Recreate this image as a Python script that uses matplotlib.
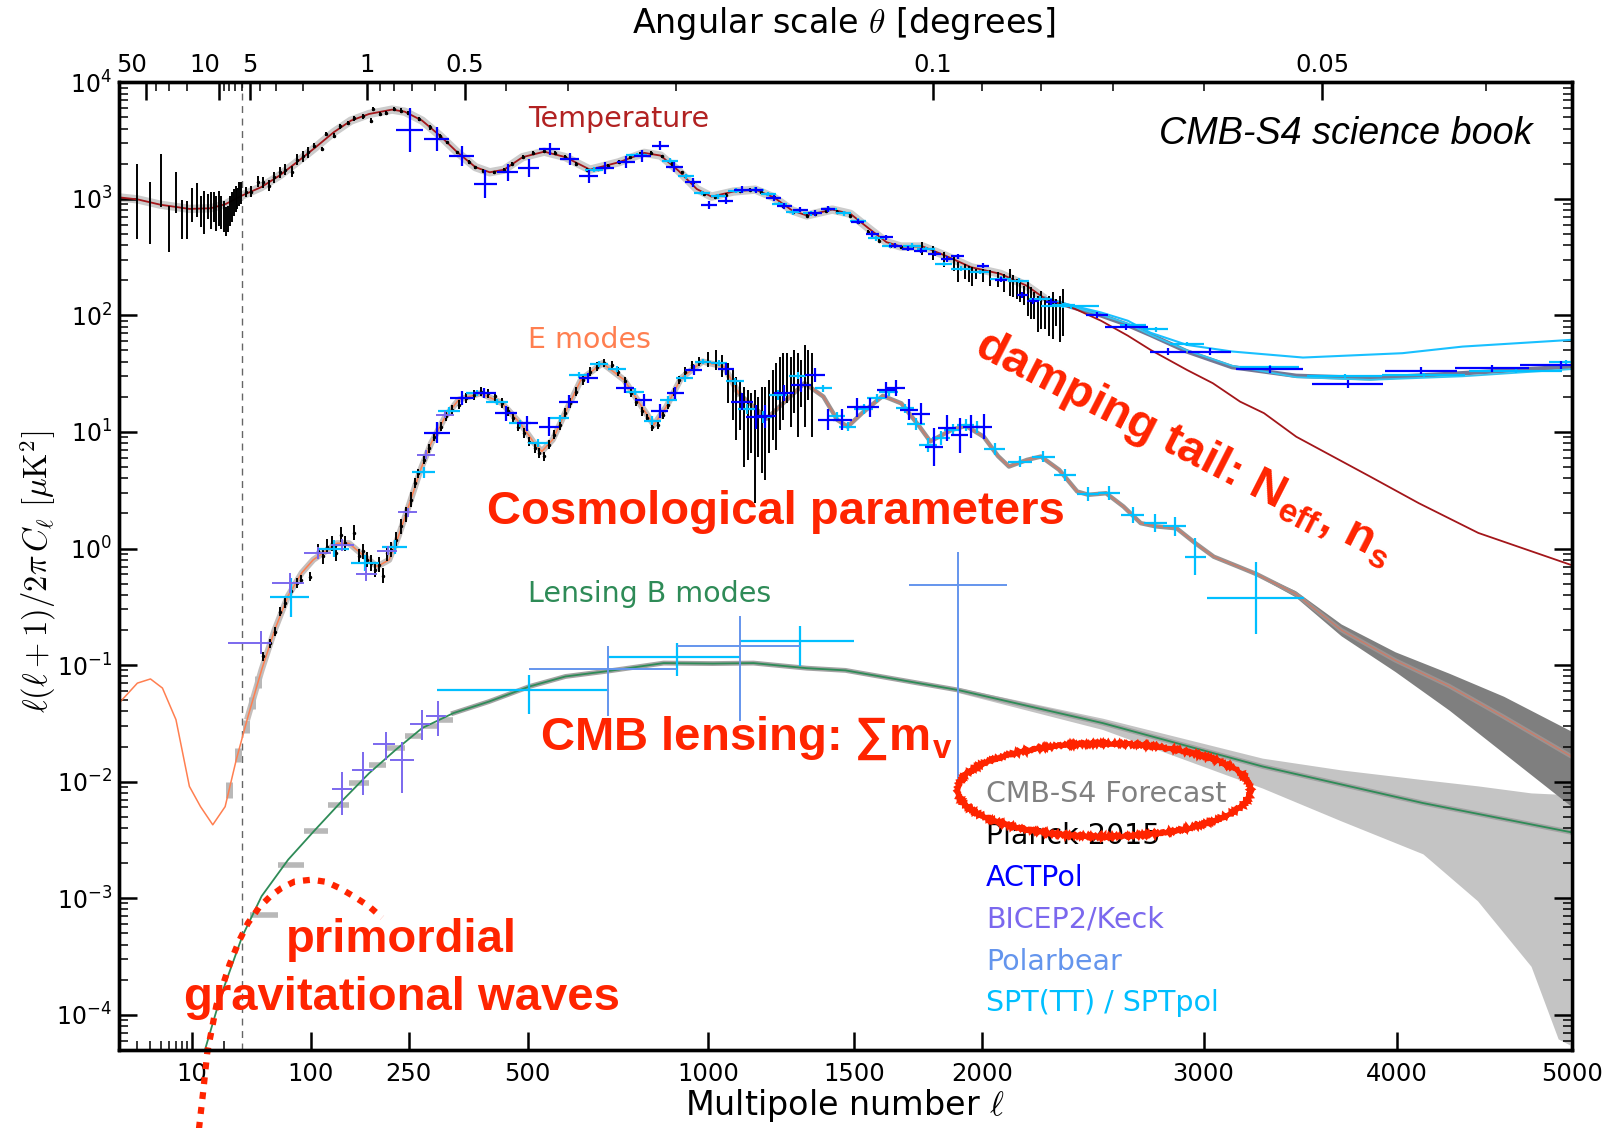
import numpy as np
import matplotlib
matplotlib.use("Agg")
import matplotlib.pyplot as plt
from matplotlib.patches import Ellipse
from matplotlib.ticker import NullFormatter
from matplotlib.transforms import ScaledTranslation

W, H = 1617, 1128
RED = '#ff2400'

plt.rcParams['mathtext.fontset'] = 'cm'

# ---------------- theory spectra, D_ell [uK^2] ----------------
tt_ell = [2, 3, 5, 9.4, 15, 20.7, 30, 46, 64, 83, 106, 130, 155, 183, 221, 243, 275, 309, 344, 382,
          413, 445, 488, 540, 593, 657, 735, 807, 855, 908, 964, 1010, 1080, 1152, 1214, 1277, 1328,
          1419, 1485, 1552, 1620, 1675, 1761, 1850, 1955, 2078, 2188, 2268, 2399, 2517, 2640, 2746,
          2920, 3045, 3180, 3300, 3465, 3855, 4120, 4455, 5000]
tt_dl = [1030, 990, 890, 820, 830, 900, 1070, 1260, 1585, 2060, 2770, 3720, 4690, 5350, 5830, 5600,
         4690, 3490, 2510, 1870, 1690, 1780, 2280, 2540, 2280, 1780, 2060, 2480, 2350, 1745, 1215,
         1045, 1155, 1200, 1030, 795, 720, 809, 744, 560, 425, 390, 390, 326, 259, 227, 180, 139,
         114, 90, 67, 50.6, 34, 26.2, 18.2, 14.5, 9.1, 4.14, 2.45, 1.36, 0.72]

# TT with foregrounds (forecast) and the two SPT model curves at high ell
tts4_ell = [2268, 2399, 2517, 2630, 2746, 2920, 3140, 3465, 3855, 4365, 5000]
tts4_dl = [139, 116, 100, 84, 68, 49, 36, 30.3, 28.9, 31.9, 36.4]
sptfg_hi_ell = [2268, 2399, 2517, 2640, 2746, 2920, 3140, 3500, 4030, 4365, 5000]
sptfg_hi_dl = [140, 120, 106, 90, 71, 55.8, 49, 43.5, 47.4, 54, 61.7]
sptfg_lo_ell = [2268, 2399, 2517, 2640, 2746, 2920, 3140, 3465, 3855, 4365, 5000]
sptfg_lo_dl = [139, 117, 101, 85, 68, 50, 37, 29.5, 28.0, 30.0, 34.6]

ee_ell = [2, 3, 4, 5.2, 7, 9.4, 12, 15.7, 20.6, 26.3, 34.5, 46.4, 59, 73, 89, 103, 135, 152, 173,
          196, 216, 232, 252, 272, 292, 320, 347, 393, 440, 482, 516, 534, 561, 596, 633, 690, 750,
          800, 835, 872, 916, 982, 1050, 1097, 1190, 1320, 1387, 1437, 1475, 1528, 1606, 1677, 1748,
          1790, 1875, 1933, 2007, 2067, 2113, 2190, 2250, 2330, 2410, 2460, 2540, 2620, 2700, 2770,
          2870, 2960, 3050, 3170, 3265, 3460, 3700, 3990, 4290, 4600, 5000]
ee_dl = [0.047, 0.070, 0.076, 0.0635, 0.034, 0.0091, 0.0061, 0.00426, 0.0061, 0.0154, 0.036, 0.091,
         0.2, 0.39, 0.62, 0.8, 1.11, 1.11, 0.88, 0.70, 0.8, 1.27, 2.45, 4.74, 8.0, 13.6, 18.9, 21.5,
         17.7, 11.9, 8.0, 6.8, 8.6, 15.5, 28, 38.9, 28, 16.5, 11.5, 16.5, 28.9, 40.2, 36.4, 21.5,
         13.0, 26.2, 20.1, 12.7, 11.1, 14.5, 20.4, 17.6, 11.1, 8.3, 10.4, 11.3, 9.1, 6.2, 5.05, 5.76,
         6.15, 4.73, 3.08, 2.89, 2.98, 2.29, 1.65, 1.55, 1.49, 1.11, 0.85, 0.70, 0.60, 0.41, 0.20,
         0.11, 0.066, 0.036, 0.0164]
eeband_ell = [3265, 3460, 3700, 3990, 4290, 4600, 5000]
eeband_lo = [0.585, 0.385, 0.178, 0.088, 0.041, 0.0176, 0.0061]
eeband_hi = [0.615, 0.435, 0.225, 0.13, 0.085, 0.054, 0.027]

bb_ell = [10, 12.4, 18.7, 30, 46.4, 73.3, 105.6, 141.6, 183, 227, 275, 336, 412, 505, 593, 711, 864,
          1014, 1146, 1328, 1467, 1903, 2524, 3292, 4143, 5000]
bb_dl = [2.3e-5, 4.1e-5, 1.44e-4, 4.7e-4, 1.04e-3, 2.14e-3, 3.87e-3, 6.8e-3, 0.0118, 0.0187, 0.0288,
         0.0387, 0.0487, 0.0656, 0.0798, 0.0893, 0.104, 0.103, 0.104, 0.094, 0.09, 0.061, 0.0318,
         0.0135, 0.00655, 0.00367]
bbband_ell = [1903, 2524, 3292, 3700, 4143, 4450, 4760, 4920, 4990]
bbband_lo = [0.058, 0.028, 0.0088, 0.0046, 0.0024, 0.00095, 2.6e-4, 6.2e-5, 5.5e-5]
bbband_hi = [0.064, 0.035, 0.0159, 0.0126, 0.0104, 0.0092, 0.008, 0.0078, 0.0077]

# primordial tensor B modes
r_ell = [11.6, 12.8, 13.9, 17, 22.7, 28, 34.5, 44, 54.8, 66, 80.7, 101, 120, 138.5, 160, 183, 204]
r_dl = [1.05e-5, 2.3e-5, 4.7e-5, 1.2e-4, 2.7e-4, 4.3e-4, 6.1e-4, 8.3e-4, 1.04e-3, 1.22e-3, 1.39e-3,
        1.44e-3, 1.38e-3, 1.22e-3, 1.03e-3, 8.5e-4, 6.8e-4]

# CMB-S4 forecast boxes at low ell
eef_ell = [22.3, 27.3, 32.8, 37.5, 43]
eef_lo = [0.0073, 0.0148, 0.0263, 0.042, 0.064]
eef_hi = [0.0099, 0.0195, 0.034, 0.053, 0.081]
bbf_edges = [36, 62, 92, 122, 152, 183, 211, 243, 275, 305, 335]
bbf_dl = [7.2e-4, 1.94e-3, 3.74e-3, 6.3e-3, 9.7e-3, 0.014, 0.0194, 0.0244, 0.0298, 0.034]

# ---------------- Planck 2015 ----------------
pl_ttlow_ell = [3, 4, 5, 6, 7, 8, 9, 10, 11, 12, 13, 14, 15, 16, 17, 18, 19, 20, 21, 22, 23, 24, 25,
                26, 27, 28, 29]
pl_ttlow_lo = [453, 410, 847, 348, 757, 453, 453, 630, 695, 571, 500, 673, 552, 630, 535, 590, 552,
               517, 484, 517, 590, 630, 718, 768, 820, 876, 900]
pl_ttlow_hi = [1995, 1387, 2427, 876, 1714, 986, 967, 1233, 1371, 1067, 1178, 1103, 1154, 1140, 1067,
               1178, 1067, 967, 847, 876, 1067, 1140, 1217, 1300, 1233, 1387, 1400]

pl_tt_ell = [33, 37, 43, 48, 53, 58, 64, 70, 78, 83, 90, 96, 104, 114, 119, 130, 139, 150, 160, 174,
             186, 189, 200, 211, 224, 236, 249, 269, 289, 309, 324, 344, 368, 382, 399, 422, 445, 463,
             488, 513, 540, 566, 593, 620, 649, 677, 706, 735, 766, 796, 826, 858, 889, 920, 953, 987,
             1021, 1055, 1100, 1136, 1171, 1214, 1245, 1281, 1328, 1357, 1396, 1436, 1485, 1512, 1551,
             1593, 1633, 1674, 1718]
pl_tt_dl = [1140, 1155, 1406, 1387, 1300, 1531, 1690, 1782, 1714, 2173, 2317, 2510, 2863, 2682, 3604,
            3490, 4196, 4480, 4910, 5110, 4690, 5900, 5350, 5460, 5900, 5720, 5460, 4850, 4115, 3440,
            3057, 2510, 2062, 1867, 1747, 1690, 1782, 1995, 2275, 2478, 2594, 2478, 2275, 1995, 1782,
            1808, 1928, 2062, 2275, 2427, 2478, 2317, 1995, 1690, 1387, 1103, 1033, 1081, 1178, 1200,
            1155, 1033, 876, 768, 718, 743, 794, 778, 718, 630, 517, 439, 392, 384, 392]
pl_tt_dex = [0.045] * 12 + [0.02] * 18 + [0.015] * 45

pl_tth_ell = [1759, 1800, 1843, 1886, 1901, 1929, 1945, 1960, 1975, 2004, 2034, 2065, 2094, 2117, 2132,
              2147, 2161, 2178, 2192, 2208, 2222, 2238, 2252, 2269, 2283, 2302, 2315, 2333, 2348]
pl_tth_lo = [330, 300, 260, 240, 193, 206, 193, 180, 206, 193, 180, 175, 158, 148, 143, 139, 130, 122,
             99.8, 93.4, 93.4, 71.8, 76.6, 76.6, 67.2, 62.9, 81.8, 58.9, 67.2]
pl_tth_hi = [430, 395, 350, 320, 286, 277, 268, 259, 251, 251, 243, 235, 227, 251, 220, 206, 193, 180,
             193, 175, 158, 148, 163, 139, 148, 158, 139, 148, 169]

pl_ee_ell = [48, 54, 59, 64, 70, 76, 83, 88, 99, 109, 115, 121, 128, 134, 140, 146, 159, 167, 173, 180,
             186, 193, 199, 205, 212, 220, 227, 237, 245, 255, 262, 268, 278, 288, 298, 312, 322, 334,
             347, 363, 378, 393, 409, 425, 440, 453, 465, 478, 491, 503, 518, 528, 539, 551, 565, 578,
             592, 605, 619, 638, 657, 676, 695, 716, 734, 753, 770, 783, 800, 815, 831, 846, 862, 878,
             894, 910, 927, 949, 971]
pl_ee_dl = [0.119, 0.154, 0.194, 0.288, 0.34, 0.428, 0.505, 0.54, 0.575, 0.944, 0.855, 1.04, 1.11, 0.91,
            1.31, 1.11, 1.37, 0.855, 0.944, 0.8, 0.75, 0.657, 0.726, 0.583, 0.91, 0.975, 1.19, 1.55,
            1.95, 2.62, 3.64, 4.43, 5.77, 7.26, 9.14, 11.1, 13.6, 15.5, 17.1, 19.5, 20.8, 22.2, 21.5,
            20.2, 17.7, 15.0, 13.1, 11.1, 9.77, 8.28, 7.26, 6.58, 6.16, 7.76, 9.46, 11.5, 14.5, 17.7,
            22.2, 28.0, 33.0, 36.4, 38.9, 37.7, 33.0, 27.1, 21.5, 18.2, 15.0, 13.1, 11.1, 11.5, 14.0,
            17.1, 22.2, 28.0, 33.0, 37.7, 40.2]
pl_ee_dex = [0.04] * 9 + [0.065] * 21 + [0.04] * 30 + [0.035] * 19

pl_eeh_ell = [999, 1023, 1045, 1063, 1080, 1090, 1101, 1113, 1127, 1138, 1150, 1162, 1173, 1186, 1198,
              1210, 1223, 1236, 1246, 1260, 1272, 1285, 1296, 1309, 1322, 1333, 1346]
pl_eeh_lo = [36.4, 34.1, 29.9, 17.6, 12.7, 8.55, 10.4, 5.05, 5.76, 6.58, 2.45, 6.15, 4.43, 3.88, 6.58,
             8.55, 7.02, 10.4, 12.7, 17.6, 11.1, 14.5, 9.14, 16.5, 11.1, 18.8, 9.14]
pl_eeh_hi = [49.0, 50.6, 45.9, 38.8, 34.0, 29.8, 27.9, 24.5, 23.0, 21.5, 23.0, 20.1, 24.5, 24.5, 27.9,
             34.0, 38.8, 44.4, 47.3, 47.3, 44.4, 50.6, 47.3, 41.5, 55.8, 50.6, 47.3]

# ---------------- ACTPol ----------------
act_tt_ell = [252, 303, 353, 403, 453, 503, 553, 604, 653, 698, 755, 802, 854, 896, 953, 1003, 1055,
              1108, 1153, 1214, 1250, 1306, 1357, 1402, 1512, 1567, 1620, 1654, 1703, 1753, 1808, 1857,
              1900, 2005, 2078, 2170, 2216, 2295, 2500, 2633, 2830, 3030, 3330, 3735, 4135, 4535, 4935]
act_tt_dl = [3900, 3266, 2317, 1343, 1690, 1828, 2680, 2198, 1563, 1828, 2060, 2317, 2866, 1867, 1387,
             887, 966, 1200, 1200, 1012, 866, 809, 757, 820, 638, 500, 469, 397, 372, 360, 337, 305,
             322, 268, 203, 150, 134, 130, 100, 79.5, 49, 49, 34.6, 25.7, 33.4, 35.2, 37.6]
act_tt_dex = [0.186, 0.1, 0.086, 0.12, 0.075, 0.076, 0.052, 0.052, 0.055, 0.05, 0.05, 0.05, 0.04,
              0.045, 0.04, 0.035, 0.03, 0.03, 0.025, 0.025, 0.025, 0.025, 0.025, 0.025, 0.02, 0.022,
              0.022, 0.022, 0.022, 0.022, 0.022, 0.022, 0.022, 0.025, 0.025, 0.025, 0.025, 0.025,
              0.025, 0.025, 0.03, 0.03, 0.03, 0.034, 0.03, 0.03, 0.035]
act_tt_xerr = [25] * 38 + [50, 100, 85, 105, 170, 190, 200, 215, 240]

act_ee_ell = [304, 354, 401, 449, 499, 551, 601, 652, 753, 806, 852, 899, 954, 1056, 1108, 1155, 1186,
              1250, 1309, 1357, 1404, 1456, 1508, 1556, 1620, 1656, 1705, 1755, 1805, 1857, 1908, 1955,
              2007]
act_ee_dl = [9.8, 19.5, 21.5, 14.5, 11.9, 11.1, 18.2, 28.9, 23.8, 18.9, 15.0, 21.5, 34.1, 34.6, 18.2,
             13.4, 13.6, 21.5, 25.3, 30.8, 12.7, 12.7, 16.3, 16.3, 23.0, 23.7, 15.5, 14.3, 7.4, 10.8,
             9.4, 11.1, 11.1]
act_ee_dex = [0.09, 0.06, 0.045, 0.065, 0.065, 0.08, 0.055, 0.045, 0.045, 0.05, 0.06, 0.05, 0.045,
              0.05, 0.07, 0.1, 0.1, 0.07, 0.06, 0.06, 0.09, 0.09, 0.08, 0.08, 0.07, 0.07, 0.09, 0.09,
              0.165, 0.11, 0.15, 0.1, 0.11]
act_ee_xerr = [25] * 14 + [35] * 19

# ---------------- SPT / SPTpol ----------------
spt_tt_ell = [668, 786, 883, 931, 981, 1032, 1088, 1152, 1196, 1233, 1281, 1343, 1408, 1460, 1512, 1580,
              1633, 1718, 1773, 1843, 1915, 1990, 2078, 2155, 2248, 2345, 2380, 2665, 2770, 2920, 3330,
              3720, 4150, 4670, 4965]
spt_tt_dl = [1782, 2383, 2128, 1563, 1125, 1052, 1178, 1200, 1103, 906, 768, 752, 820, 752, 652, 459,
             397, 397, 372, 277, 251, 235, 206, 199, 139, 122, 120, 83, 76, 57, 36, 30.3, 30.9, 33.6,
             39.9]
spt_tt_xerr = [25, 30, 25, 25, 25, 25, 25, 28, 25, 25, 25, 28, 28, 28, 30, 30, 30, 35, 35, 35, 40, 40,
               45, 45, 50, 55, 130, 60, 60, 80, 150, 200, 230, 270, 100]
spt_tt_dex = [0.02] * 35

spt_ee_ell = [76, 130, 177, 226, 278, 328, 386, 429, 482, 525, 578, 628, 681, 729, 780, 831, 878, 927,
              984, 1033, 1085, 1126, 1179, 1228, 1296, 1387, 1437, 1475, 1535, 1583, 1628, 1690, 1735,
              1782, 1833, 1880, 1933, 1978, 2053, 2160, 2260, 2355, 2460, 2555, 2662, 2768, 2860, 2960,
              3260]
spt_ee_dl = [0.38, 1.0, 0.75, 1.03, 4.5, 15.2, 21.5, 18.2, 11.9, 8.0, 13.1, 30.9, 38.4, 34.6, 22.2,
             12.5, 18.9, 28.9, 40.2, 38.9, 27.1, 15.7, 13.4, 20.8, 30.3, 23.7, 13.6, 11.1, 15.7, 19.5,
             22.2, 16.0, 11.7, 7.7, 8.8, 10.4, 11.5, 11.1, 7.1, 5.57, 6.15, 4.28, 2.94, 3.02, 1.94,
             1.65, 1.55, 0.853, 0.375]
spt_ee_dex = [0.165, 0.07, 0.07, 0.06, 0.05, 0.035, 0.025, 0.025, 0.03, 0.035, 0.03, 0.025, 0.025,
              0.025, 0.03, 0.04, 0.035, 0.03, 0.025, 0.025, 0.03, 0.04, 0.05, 0.04, 0.03, 0.03, 0.04,
              0.04, 0.04, 0.035, 0.035, 0.04, 0.05, 0.06, 0.06, 0.05, 0.05, 0.05, 0.05, 0.05, 0.05,
              0.05, 0.06, 0.06, 0.07, 0.08, 0.08, 0.16, 0.31]
spt_ee_xerr = [22] * 6 + [25] * 14 + [30] * 8 + [35] * 10 + [45] + [50] * 5 + [55] * 3 + [50, 245]

spt_bb_ell = [502, 903, 1305]
spt_bb_dl = [0.0605, 0.117, 0.16]
spt_bb_lo = [0.0382, 0.0798, 0.0986]
spt_bb_hi = [0.0826, 0.154, 0.217]
spt_bb_xlo = [303, 705, 1100]
spt_bb_xhi = [705, 1100, 1500]

# ---------------- BICEP2/Keck ----------------
bk_ee_ell = [46, 75, 109, 142, 178, 214, 249, 283, 320]
bk_ee_dl = [0.156, 0.505, 0.914, 1.07, 0.61, 0.96, 2.04, 6.4, 14.0]
bk_ee_xlo = [22, 56, 92, 126, 162, 196, 232, 266, 302]
bk_ee_xhi = [55, 92, 126, 160, 196, 230, 266, 300, 338]
bk_ee_dex = [0.1, 0.085, 0.05, 0.05, 0.06, 0.04, 0.04, 0.04, 0.03]

bk_bb_ell = [141.6, 174, 210, 239, 274, 306]
bk_bb_dl = [8.6e-3, 0.01265, 0.021, 0.0152, 0.0312, 0.0363]
bk_bb_lo = [0.0052, 0.0077, 0.0154, 0.008, 0.0229, 0.0244]
bk_bb_hi = [0.0122, 0.0178, 0.0264, 0.022, 0.0408, 0.0488]
bk_bb_xlo = [128, 157, 190, 217, 252, 283]
bk_bb_xhi = [157, 190, 226, 260, 290, 321]

# ---------------- Polarbear ----------------
pb_bb_ell = [705, 1100, 1903]
pb_bb_dl = [0.092, 0.1466, 0.489]
pb_bb_lo = [0.0367, 0.0328, 0.0079]
pb_bb_hi = [0.146, 0.261, 0.94]
pb_bb_xlo = [502, 903, 1706]
pb_bb_xhi = [903, 1305, 2105]

legend_labels = ['CMB-S4 Forecast', 'Planck 2015', 'ACTPol', 'BICEP2/Keck', 'Polarbear',
                 'SPT(TT) / SPTpol']
legend_colors = ['#808080', 'black', '#0000ff', '#7b68ee', '#6495ed', '#00bfff']

ytick_vals = [1e-4, 1e-3, 1e-2, 1e-1, 1e0, 1e1, 1e2, 1e3, 1e4]
ytick_text = [r'$\mathdefault{10^{-4}}$', r'$\mathdefault{10^{-3}}$', r'$\mathdefault{10^{-2}}$',
              r'$\mathdefault{10^{-1}}$', r'$\mathdefault{10^{0}}$', r'$\mathdefault{10^{1}}$',
              r'$\mathdefault{10^{2}}$', r'$\mathdefault{10^{3}}$', r'$\mathdefault{10^{4}}$']


# hybrid multipole axis: logarithmic below l=30, l^0.6 above
LSW, PW, KW = 30.0, 0.6, 0.0802


def fwd(l):
    l = np.clip(np.asarray(l, dtype=float), 1e-3, None)
    return np.where(l <= LSW, np.log10(l), np.log10(LSW) + KW * (l ** PW - LSW ** PW))


def inv(f):
    f = np.asarray(f, dtype=float)
    g = np.log10(LSW)
    up = np.clip((f - g) / KW + LSW ** PW, 1e-6, None) ** (1 / PW)
    return np.where(f <= g, 10.0 ** np.minimum(f, g), up)


def dex_err(v, e):
    v = np.asarray(v, float)
    e = np.asarray(e, float)
    return [v - v / 10 ** e, v * 10 ** e - v]


def span(c, lo, hi):
    c = np.asarray(c, float)
    return [c - np.asarray(lo, float), np.asarray(hi, float) - c]


def fpos(x, y):
    return x / W, 1 - y / H


fig = plt.figure(figsize=(W / 100, H / 100), dpi=100)
ax = fig.add_axes([118.9 / W, 1 - 1049.8 / H, (1571.6 - 118.9) / W, (1049.8 - 82.3) / H])
ax.set_xscale('function', functions=(fwd, inv))
ax.set_yscale('log')
ax.set_xlim(2, 5000)
ax.set_ylim(5e-5, 1e4)

# forecast bands and underlays
ax.fill_between(bbband_ell, bbband_lo, bbband_hi, color='#c4c4c4', lw=0, zorder=1)
ax.fill_between(eeband_ell, eeband_lo, eeband_hi, color='#7f7f7f', lw=0, zorder=1)
ax.plot(tt_ell[:48], tt_dl[:48], color='#cccccc', lw=6, solid_capstyle='butt', zorder=1.5)
ax.plot(ee_ell[10:44], ee_dl[10:44], color='#c4bebc', lw=4.5, zorder=1.5)
ax.plot(ee_ell[43:], ee_dl[43:], color='#9b9290', lw=3.2, zorder=1.5)
ax.plot(bb_ell[11:], bb_dl[11:], color='#a3a3a3', lw=3.5, zorder=1.5)
ax.errorbar(eef_ell, np.sqrt(np.multiply(eef_lo, eef_hi)),
            yerr=span(np.sqrt(np.multiply(eef_lo, eef_hi)), eef_lo, eef_hi),
            fmt='none', ecolor='#b8b8b8', elinewidth=5, zorder=1.5)
ax.hlines(bbf_dl, bbf_edges[:-1], bbf_edges[1:], color='#b8b8b8', lw=4, zorder=1.5)

ax.axvline(30, color='#666666', lw=1, ls=(0, (5, 4)), zorder=1.2)

# theory curves
ax.plot(tts4_ell, tts4_dl, color='#737895', lw=3.2, zorder=2)
ax.plot(sptfg_lo_ell, sptfg_lo_dl, color='#33c4f0', lw=1.3, zorder=2.1)
ax.plot(sptfg_hi_ell, sptfg_hi_dl, color='#19c0ff', lw=1.5, zorder=2.1)
ax.plot(tt_ell, tt_dl, color='#a3161a', lw=1.3, zorder=2.2)
ax.plot(ee_ell[:44], ee_dl[:44], color='#ff7f50', lw=1.1, zorder=2.2)
ax.plot(ee_ell[43:], ee_dl[43:], color='#e0735a', lw=0.6, zorder=2.2)
ax.plot(bb_ell, bb_dl, color='#2e8b57', lw=1.3, zorder=2.2)
ax.plot(r_ell, r_dl, color=RED, lw=4.5, ls=(0, (1.1, 1.3)), clip_on=False, zorder=2.3)

# Planck 2015
c_low = np.sqrt(np.multiply(pl_ttlow_lo, pl_ttlow_hi))
ax.errorbar(pl_ttlow_ell, c_low, yerr=span(c_low, pl_ttlow_lo, pl_ttlow_hi), fmt='none',
            ecolor='k', elinewidth=1.4, zorder=3)
ax.errorbar(pl_tt_ell, pl_tt_dl, yerr=dex_err(pl_tt_dl, pl_tt_dex), fmt='.', ms=3, color='k',
            elinewidth=1.4, zorder=3)
c_tth = np.sqrt(np.multiply(pl_tth_lo, pl_tth_hi))
ax.errorbar(pl_tth_ell, c_tth, yerr=span(c_tth, pl_tth_lo, pl_tth_hi), fmt='none', ecolor='k',
            elinewidth=1.4, zorder=3)
ax.errorbar(pl_ee_ell, pl_ee_dl, yerr=dex_err(pl_ee_dl, pl_ee_dex), fmt='.', ms=3, color='k',
            elinewidth=1.4, zorder=3)
c_eeh = np.sqrt(np.multiply(pl_eeh_lo, pl_eeh_hi))
ax.errorbar(pl_eeh_ell, c_eeh, yerr=span(c_eeh, pl_eeh_lo, pl_eeh_hi), fmt='none', ecolor='k',
            elinewidth=1.4, zorder=3)

# ground-based experiments
eb = dict(fmt='none', capsize=0, zorder=4)
ax.errorbar(spt_tt_ell, spt_tt_dl, xerr=spt_tt_xerr, yerr=dex_err(spt_tt_dl, spt_tt_dex),
            ecolor='#00bfff', elinewidth=1.6, **eb)
ax.errorbar(spt_ee_ell, spt_ee_dl, xerr=spt_ee_xerr, yerr=dex_err(spt_ee_dl, spt_ee_dex),
            ecolor='#00bfff', elinewidth=1.6, **eb)
ax.errorbar(spt_bb_ell, spt_bb_dl, xerr=span(spt_bb_ell, spt_bb_xlo, spt_bb_xhi),
            yerr=span(spt_bb_dl, spt_bb_lo, spt_bb_hi), ecolor='#00bfff', elinewidth=1.6, **eb)
ax.errorbar(act_tt_ell, act_tt_dl, xerr=act_tt_xerr, yerr=dex_err(act_tt_dl, act_tt_dex),
            ecolor='#0000ff', elinewidth=1.6, **eb)
ax.errorbar(act_ee_ell, act_ee_dl, xerr=act_ee_xerr, yerr=dex_err(act_ee_dl, act_ee_dex),
            ecolor='#0000ff', elinewidth=1.6, **eb)
ax.errorbar(bk_ee_ell, bk_ee_dl, xerr=span(bk_ee_ell, bk_ee_xlo, bk_ee_xhi),
            yerr=dex_err(bk_ee_dl, bk_ee_dex), ecolor='#7b68ee', elinewidth=1.4, **eb)
ax.errorbar(bk_bb_ell, bk_bb_dl, xerr=span(bk_bb_ell, bk_bb_xlo, bk_bb_xhi),
            yerr=span(bk_bb_dl, bk_bb_lo, bk_bb_hi), ecolor='#7b68ee', elinewidth=1.4, **eb)
ax.errorbar(pb_bb_ell, pb_bb_dl, xerr=span(pb_bb_ell, pb_bb_xlo, pb_bb_xhi),
            yerr=span(pb_bb_dl, pb_bb_lo, pb_bb_hi), ecolor='#6495ed', elinewidth=1.4, **eb)

# axes cosmetics
for s in ax.spines.values():
    s.set_linewidth(2.4)
ax.set_xticks([10, 100, 250, 500, 1000, 1500, 2000, 3000, 4000, 5000])
ax.set_xticklabels(['10', '100', '250', '500', '1000', '1500', '2000', '3000', '4000', '5000'])
ax.set_xticks([3, 4, 5, 6, 7, 8, 9, 20], minor=True)
ax.xaxis.set_minor_formatter(NullFormatter())
ax.set_yticks(ytick_vals)
ax.set_yticklabels(ytick_text)
ax.yaxis.set_minor_formatter(NullFormatter())
ax.tick_params(axis='x', which='both', direction='in', top=False, labelsize=17.5, pad=9)
ax.tick_params(axis='y', which='both', direction='in', left=True, right=True, labelsize=17, pad=5)
ax.tick_params(which='major', length=13, width=1.8)
ax.tick_params(which='minor', length=6.5, width=1.1)

ax2 = ax.twiny()
ax2.set_xscale('function', functions=(fwd, inv))
ax2.set_xlim(2, 5000)
theta_major = [50, 10, 5, 1, 0.5, 0.1, 0.05]
theta_minor = [40, 30, 20, 9, 8, 7, 6, 4, 3, 2, 0.9, 0.8, 0.7, 0.6, 0.4, 0.3, 0.2, 0.09, 0.08,
               0.07, 0.06, 0.04]
ax2.set_xticks([180.0 / t for t in theta_major])
ax2.set_xticklabels(['50', '10', '5', '1', '0.5', '0.1', '0.05'])
ax2.set_xticks([180.0 / t for t in theta_minor], minor=True)
ax2.xaxis.set_minor_formatter(NullFormatter())
ax2.tick_params(axis='x', which='both', direction='in', labelsize=17.5, pad=4)
ax2.tick_params(which='major', length=13, width=1.8)
ax2.tick_params(which='minor', length=6.5, width=1.1)
for s in ax2.spines.values():
    s.set_linewidth(2.4)
# the two leftmost angle labels sit a little left of their ticks
for tk in ax2.xaxis.get_major_ticks()[:2]:
    tk.label2.set_transform(tk.label2.get_transform()
                            + ScaledTranslation(-0.14, 0, fig.dpi_scale_trans))

fig.text(*fpos(845, 1106), r'Multipole number $\ell$', ha='center', va='center', fontsize=24)
fig.text(*fpos(844, 23), r'Angular scale $\theta$ [degrees]', ha='center', va='center',
         fontsize=24)
fig.text(*fpos(38, 572), r'$\ell(\ell+1)/2\pi\, C_\ell\ [\mu{\rm K}^2]$', rotation=90,
         ha='center', va='center', fontsize=23.5)

# curve labels
lab = dict(ha='left', va='center', fontsize=20.5)
fig.text(*fpos(528, 119), 'Temperature', color='#b22222', **lab)
fig.text(*fpos(528, 340), 'E modes', color='#ff7f50', **lab)
fig.text(*fpos(528, 594), 'Lensing B modes', color='#2e8b57', **lab)

fig.text(*fpos(1532, 134), 'CMB-S4 science book', ha='right', va='center', fontsize=27.2,
         style='italic', family=['Liberation Sans', 'DejaVu Sans'])

big = dict(fontsize=34, weight='bold', color=RED, family=['Liberation Sans', 'DejaVu Sans'])
fig.text(*fpos(487, 512), 'Cosmological parameters', ha='left', va='center', **big)
fig.text(*fpos(540, 738), r'CMB lensing: ∑m$_\mathdefault{v}$', ha='left', va='center', **big)
fig.text(*fpos(286, 940), 'primordial', ha='left', va='center', **big)
fig.text(*fpos(184, 998), 'gravitational waves', ha='left', va='center', **big)
fig.text(*fpos(1184, 448), r'damping tail: N$_\mathdefault{eff}$, n$_\mathdefault{s}$',
         ha='center', va='center', rotation=-27, rotation_mode='anchor', **big)

# experiment key
key_y = [794, 836, 878, 920, 962, 1003]
for txt, col, yy in zip(legend_labels, legend_colors, key_y):
    fig.text(*fpos(986, yy), txt, color=col, **lab)

ring = Ellipse(fpos(1104, 790), 293 / W, 93 / H, transform=fig.transFigure, fill=False,
               ec=RED, lw=3.6, zorder=10)
ring.set_sketch_params(scale=1.2, length=2.5, randomness=2.0)
fig.add_artist(ring)

fig.savefig('out.png', dpi=100)
